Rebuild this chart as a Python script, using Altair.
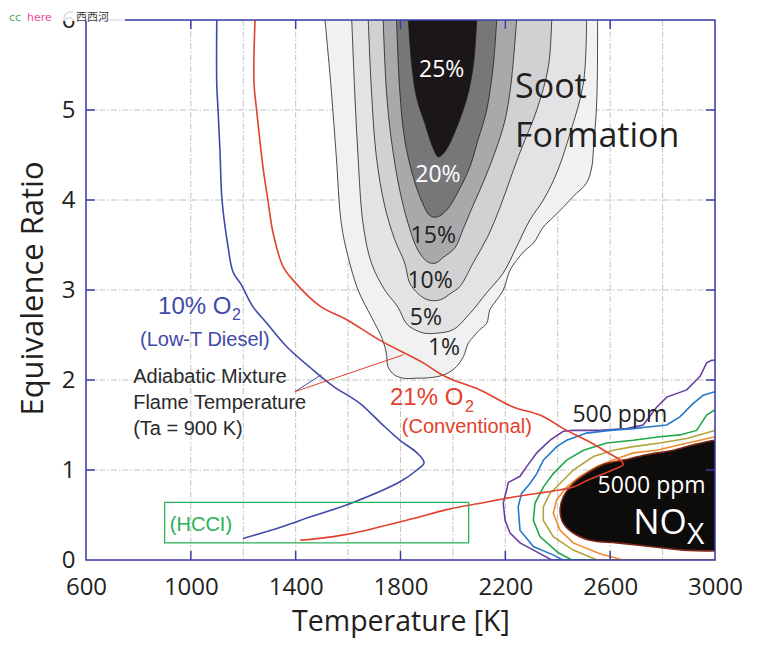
import altair as alt
import pandas as pd

# ---------------- axes ----------------
X_LABELS = [600, 1000, 1400, 1800, 2200, 2600, 3000]
Y_LABELS = [0, 1, 2, 3, 4, 5, 6]
GRID_T = [1000, 1200, 1400, 1600, 1800, 2000, 2200, 2400, 2600, 2800]
GRID_PHI = [1, 2, 3, 4, 5]
TICK_T = [1000, 1400, 1800, 2200, 2600]
TICK_PHI = [1, 2, 3, 4, 5]

# ---------------- soot contours (T [K], phi) ----------------
soot1_T = [1512, 1536, 1555, 1574, 1600, 1638, 1689, 1727, 1746, 1752, 1775, 1810, 1862, 1925, 1976, 2014, 2040, 2059, 2078, 2103,
           2129, 2141, 2167, 2192, 2218, 2243, 2275, 2307, 2345, 2383, 2434, 2459, 2510, 2530, 2536, 2549, 2552]
soot1_phi = [6.0, 5.22, 4.48, 3.74, 3.37, 3.0, 2.70, 2.48, 2.30, 2.15, 2.06, 2.02, 2.02, 2.03, 2.07, 2.15, 2.26, 2.41, 2.48, 2.56,
             2.63, 2.78, 2.89, 3.0, 3.22, 3.33, 3.44, 3.52, 3.70, 3.81, 3.96, 4.04, 4.19, 4.37, 4.56, 5.11, 6.0]
soot5_T = [1614, 1625, 1638, 1657, 1689, 1740, 1790, 1822, 1854, 1893, 1938, 2001, 2065, 2129, 2192, 2243, 2294, 2345, 2396, 2447, 2498, 2510]
soot5_phi = [6.0, 5.22, 4.48, 3.74, 3.30, 3.0, 2.81, 2.63, 2.56, 2.52, 2.52, 2.56, 2.74, 2.97, 3.19, 3.48, 3.78, 4.0, 4.30, 4.74, 5.30, 6.0]
soot10_T = [1677, 1689, 1708, 1740, 1778, 1816, 1835, 1867, 1905, 1951, 1995, 2027, 2077, 2134, 2180, 2222, 2260, 2320, 2364, 2377]
soot10_phi = [6.0, 5.22, 4.48, 3.93, 3.56, 3.30, 3.08, 2.96, 2.89, 2.89, 2.97, 3.04, 3.30, 3.60, 3.92, 4.26, 4.56, 5.0, 5.48, 6.0]
soot15_T = [1734, 1746, 1765, 1797, 1829, 1867, 1905, 1935, 1962, 2008, 2038, 2077, 2122, 2164, 2199, 2222, 2243]
soot15_phi = [6.0, 5.22, 4.67, 4.11, 3.74, 3.44, 3.31, 3.30, 3.36, 3.47, 3.67, 3.94, 4.24, 4.56, 4.89, 5.30, 6.0]
soot20_T = [1785, 1797, 1816, 1848, 1879, 1911, 1938, 1977, 2023, 2065, 2096, 2129, 2154, 2167]
soot20_phi = [6.0, 5.22, 4.67, 4.26, 4.0, 3.83, 3.81, 3.89, 4.11, 4.37, 4.67, 5.0, 5.5, 6.0]
soot25_T = [1830, 1843, 1862, 1892, 1924, 1944, 1970, 2008, 2053, 2078, 2091]
soot25_phi = [6.0, 5.5, 5.13, 4.86, 4.58, 4.48, 4.54, 4.76, 5.13, 5.5, 6.0]
SOOT_FILLS = ["#f1f1f1", "#e3e3e5", "#d1d1d3", "#a9a9ab", "#77777a", "#1b1618"]

SOOT_LABELS = ["25%", "20%", "15%", "10%", "5%", "1%"]
SOOT_LABEL_T = [1957, 1943, 1925, 1913, 1897, 1966]
SOOT_LABEL_PHI = [5.37, 4.20, 3.52, 3.02, 2.61, 2.28]
SOOT_LABEL_COLORS = ["#ffffff", "#ffffff", "#231f20", "#231f20", "#231f20", "#231f20"]

# ---------------- NOx contours ----------------
nox500_T = [3000, 2377, 2320, 2256, 2218, 2199, 2192, 2205, 2211, 2230, 2256, 2282, 2320, 2345, 2370, 2421, 2459, 2561, 2663, 2726,
            2778, 2816, 2892, 2943, 2968, 2987, 3000]
nox500_phi = [0, 0, 0.09, 0.19, 0.30, 0.44, 0.63, 0.78, 0.86, 0.89, 0.93, 1.04, 1.19, 1.26, 1.33, 1.43, 1.44, 1.44, 1.46, 1.50,
              1.70, 1.81, 1.89, 2.04, 2.19, 2.22, 2.22]
noxB_T = [3000, 2420, 2380, 2307, 2256, 2249, 2262, 2294, 2320, 2345, 2396, 2434, 2510, 2599, 2688, 2752, 2816, 2866, 2917, 2955, 3000]
noxB_phi = [0, 0, 0.06, 0.15, 0.33, 0.59, 0.74, 0.85, 0.96, 1.11, 1.26, 1.33, 1.41, 1.44, 1.46, 1.48, 1.50, 1.59, 1.74, 1.83, 1.87]
noxG_T = [3000, 2454, 2402, 2332, 2307, 2313, 2345, 2383, 2434, 2498, 2587, 2688, 2790, 2866, 2930, 2968, 3000]
noxG_phi = [0, 0, 0.08, 0.26, 0.44, 0.63, 0.81, 0.96, 1.11, 1.22, 1.30, 1.33, 1.37, 1.39, 1.44, 1.61, 1.67]
noxO_T = [3000, 2550, 2459, 2383, 2345, 2345, 2370, 2409, 2459, 2536, 2612, 2688, 2790, 2892, 3000]
noxO_phi = [0, 0, 0.11, 0.26, 0.44, 0.59, 0.74, 0.85, 1.0, 1.15, 1.22, 1.26, 1.30, 1.35, 1.44]
noxR_T = [3000, 2649, 2561, 2459, 2409, 2383, 2396, 2434, 2485, 2549, 2612, 2688, 2778, 2866, 2943, 3000]
noxR_phi = [0, 0, 0.07, 0.19, 0.33, 0.52, 0.67, 0.81, 0.93, 1.04, 1.11, 1.19, 1.22, 1.28, 1.33, 1.37]
nox5000_T = [3100, 2879, 2752, 2625, 2523, 2459, 2421, 2409, 2421, 2459, 2510, 2574, 2650, 2739, 2841, 2917, 3000, 3100]
nox5000_phi = [0.10, 0.11, 0.15, 0.19, 0.22, 0.30, 0.41, 0.56, 0.70, 0.85, 0.96, 1.06, 1.11, 1.17, 1.22, 1.28, 1.33, 1.35]
NOX_COLORS = ["#6a3fa2", "#2479c8", "#22a84a", "#b3a43a", "#f08a2c"]

# ---------------- adiabatic mixture flame temperature ----------------
o2_10_T = [1099, 1099, 1104, 1111, 1119, 1141, 1161, 1190, 1238, 1290, 1366, 1467, 1544, 1645, 1722, 1798, 1863, 1890, 1863, 1798,
           1619, 1417, 1340, 1199]
o2_10_phi = [6.0, 5.28, 4.99, 4.56, 4.0, 3.5, 3.2, 3.07, 2.81, 2.63, 2.37, 2.11, 1.93, 1.74, 1.53, 1.33, 1.19, 1.08, 1.0, 0.87,
             0.64, 0.44, 0.36, 0.24]
o2_21_T = [1245, 1241, 1251, 1275, 1294, 1314, 1352, 1390, 1493, 1595, 1722, 1887, 1951, 2001, 2103, 2230, 2332, 2434, 2510,
           2587, 2638, 2650, 2625, 2510, 2459, 2230, 2103, 1976, 1849, 1722, 1671, 1544, 1417]
o2_21_phi = [6.0, 5.30, 5.0, 4.37, 4.0, 3.63, 3.26, 3.11, 2.82, 2.67, 2.44, 2.19, 2.07, 2.0, 1.89, 1.70, 1.61, 1.44, 1.33,
             1.20, 1.11, 1.06, 1.02, 0.88, 0.81, 0.70, 0.63, 0.56, 0.46, 0.37, 0.33, 0.26, 0.22]
PTR_BLUE_T = [1397, 1499]
PTR_BLUE_PHI = [1.87, 2.06]
PTR_RED_T = [1397, 1811]
PTR_RED_PHI = [1.87, 2.28]
HCCI_BOX = {"T1": [900], "T2": [2060], "p1": [0.19], "p2": [0.64]}

# ---------------- colours ----------------
FRAME = "#3c3ca6"
BLUE = "#3f4aa8"
RED = "#e2412d"
GREEN = "#2bb15a"
DARK = "#231f20"

W, H = 629, 540
xs = alt.Scale(domain=[600, 3000], nice=False, zero=False)
ys = alt.Scale(domain=[0, 6], nice=False, zero=False)

xaxis = alt.Axis(values=X_LABELS, format="d", title="Temperature [K]", grid=False, domain=False, ticks=False, tickSize=0,
                 labelFont="Open Sans", labelFontSize=24, labelColor=DARK, labelPadding=15, labelFlush=False,
                 labelOverlap=False, titleFont="Open Sans", titleFontSize=28.5, titleFontWeight="normal",
                 titleColor=DARK, titleY=70, titleBaseline="alphabetic")
yaxis = alt.Axis(values=Y_LABELS, format="d", title="Equivalence Ratio", grid=False, domain=False, ticks=False, tickSize=0,
                 labelFont="Open Sans", labelFontSize=24, labelColor=DARK, labelPadding=11, labelFlush=False,
                 labelOverlap=False, titleFont="Open Sans", titleFontSize=31, titleFontWeight="normal",
                 titleColor=DARK, titleAngle=270, titleX=-44, titleY=268, titleBaseline="alphabetic",
                 titleAlign="center")


def XE(f="T"):
    return alt.X(f"{f}:Q", scale=xs, axis=xaxis, title="Temperature [K]")


def YE(f="phi"):
    return alt.Y(f"{f}:Q", scale=ys, axis=yaxis, title="Equivalence Ratio")


def poly(T, phi):
    return pd.DataFrame({"T": T, "phi": phi, "i": list(range(len(T)))})


layers = []
# grid
layers.append(alt.Chart(pd.DataFrame({"T": GRID_T})).mark_rule(color="#c2c2c2", strokeWidth=1, strokeDash=[6, 2, 1.5, 2])
              .encode(x=XE()))
layers.append(alt.Chart(pd.DataFrame({"phi": GRID_PHI})).mark_rule(color="#c2c2c2", strokeWidth=1, strokeDash=[6, 2, 1.5, 2])
              .encode(y=YE()))

# soot fills
soot = [(soot1_T, soot1_phi), (soot5_T, soot5_phi), (soot10_T, soot10_phi),
        (soot15_T, soot15_phi), (soot20_T, soot20_phi), (soot25_T, soot25_phi)]
for (T, p), col in zip(soot, SOOT_FILLS):
    layers.append(alt.Chart(poly(T, p)).mark_line(fill=col, stroke="#1e1e1e", strokeWidth=0.8,
                                                   interpolate="catmull-rom")
                  .encode(x=XE(), y=YE(), order="i:Q"))

# NOx
nox = [(nox500_T, nox500_phi), (noxB_T, noxB_phi), (noxG_T, noxG_phi), (noxO_T, noxO_phi), (noxR_T, noxR_phi)]
for (T, p), col in zip(nox, NOX_COLORS):
    layers.append(alt.Chart(poly(T, p)).mark_line(color=col, strokeWidth=1.6, clip=True)
                  .encode(x=XE(), y=YE(), order="i:Q"))
layers.append(alt.Chart(poly(nox5000_T, nox5000_phi)).mark_line(fill="#0e0b0b", stroke="#7a2818", strokeWidth=1.6,
                                                                clip=True, interpolate="catmull-rom")
              .encode(x=XE(), y=YE(), order="i:Q"))

# flame temperature curves
layers.append(alt.Chart(poly(o2_10_T, o2_10_phi)).mark_line(color=BLUE, strokeWidth=1.6, interpolate="catmull-rom")
              .encode(x=XE(), y=YE(), order="i:Q"))
layers.append(alt.Chart(poly(o2_21_T, o2_21_phi)).mark_line(color=RED, strokeWidth=1.6, interpolate="catmull-rom")
              .encode(x=XE(), y=YE(), order="i:Q"))
layers.append(alt.Chart(poly(PTR_BLUE_T, PTR_BLUE_PHI)).mark_line(color=BLUE, strokeWidth=1)
              .encode(x=XE(), y=YE(), order="i:Q"))
layers.append(alt.Chart(poly(PTR_RED_T, PTR_RED_PHI)).mark_line(color=RED, strokeWidth=1)
              .encode(x=XE(), y=YE(), order="i:Q"))
layers.append(alt.Chart(pd.DataFrame(HCCI_BOX)).mark_rect(fillOpacity=0, stroke=GREEN, strokeWidth=1.3)
              .encode(x=XE("T1"), x2="T2:Q", y=YE("p1"), y2="p2:Q"))


def text(T, phi, s, color, size, font="Liberation Sans", align="left"):
    df = pd.DataFrame({"T": T, "phi": phi, "s": s})
    return alt.Chart(df).mark_text(color=color, fontSize=size, font=font, align=align, baseline="alphabetic") \
        .encode(x=XE(), y=YE(), text="s:N")


# soot labels
for t, T, p, c in zip(SOOT_LABELS, SOOT_LABEL_T, SOOT_LABEL_PHI, SOOT_LABEL_COLORS):
    layers.append(text([T], [p], [t], c, 23, font="Open Sans", align="center"))
layers.append(text([2237, 2237], [5.13, 4.59], ["Soot", "Formation"], DARK, 34, font="Open Sans"))
layers.append(text([2637], [1.53], ["500 ppm"], DARK, 23, font="Open Sans", align="center"))
layers.append(text([2758], [0.75], ["5000 ppm"], "#ffffff", 23, font="Open Sans", align="center"))
layers.append(text([2688], [0.29], ["NO"], "#ffffff", 35, font="Open Sans"))
layers.append(text([2893], [0.18], ["X"], "#ffffff", 30, font="Open Sans"))

# curve labels
layers.append(text([875], [2.728], ["10% O"], BLUE, 24))
layers.append(text([1157], [2.667], ["2"], BLUE, 16))
layers.append(text([806], [2.378], ["(Low-T Diesel)"], BLUE, 20))
layers.append(text([780, 780, 780], [1.967, 1.683, 1.389],
                   ["Adiabatic Mixture", "Flame Temperature", "(Ta = 900 K)"], "#2a2a2a", 20))
layers.append(text([1760], [1.722], ["21% O"], RED, 24))
layers.append(text([2046], [1.648], ["2"], RED, 16))
layers.append(text([1805], [1.411], ["(Conventional)"], RED, 20))
layers.append(text([920], [0.322], ["(HCCI)"], GREEN, 20))

# inward ticks
layers.append(alt.Chart(pd.DataFrame({"T": TICK_T})).mark_rule(color=FRAME, strokeWidth=1.5)
              .encode(x=XE(), y=alt.value(H), y2=alt.value(H - 9)))
layers.append(alt.Chart(pd.DataFrame({"T": TICK_T})).mark_rule(color=FRAME, strokeWidth=1.5)
              .encode(x=XE(), y=alt.value(0), y2=alt.value(9)))
layers.append(alt.Chart(pd.DataFrame({"phi": TICK_PHI})).mark_rule(color=FRAME, strokeWidth=1.5)
              .encode(y=YE(), x=alt.value(0), x2=alt.value(9)))
layers.append(alt.Chart(pd.DataFrame({"phi": TICK_PHI})).mark_rule(color=FRAME, strokeWidth=1.5)
              .encode(y=YE(), x=alt.value(W), x2=alt.value(W - 9)))

# frame
one = pd.DataFrame({"a": [1]})
layers.append(alt.Chart(one).mark_rect(fillOpacity=0, stroke=FRAME, strokeWidth=1.5)
              .encode(x=alt.value(0), x2=alt.value(W), y=alt.value(0), y2=alt.value(H)))

# watermark
WM_TEXT = ["cc", "here", "西西河"]
WM_COLOR = ["#4caa4c", "#f0509a", "#404040"]
WM_X = [-77, -59, -10]
WM_FONT = ["DejaVu Sans", "DejaVu Sans", "Noto Sans CJK SC"]
WM_SIZE = [11, 11, 11]
layers.append(alt.Chart(one).mark_rect(fill="#ffffff", opacity=0.85)
              .encode(x=alt.value(-78), x2=alt.value(39), y=alt.value(-12), y2=alt.value(1)))
for t, c, xv, f, s in zip(WM_TEXT, WM_COLOR, WM_X, WM_FONT, WM_SIZE):
    layers.append(alt.Chart(one).mark_text(text=t, color=c, font=f, fontSize=s, align="left", baseline="alphabetic")
                  .encode(x=alt.value(xv), y=alt.value(1)))

chart = alt.layer(*layers).properties(
    width=W, height=H,
    padding={"left": 78, "top": 12, "right": 39, "bottom": 89},
    autosize=alt.AutoSizeParams(type="none"),
).configure_view(strokeWidth=0).configure(background="#ffffff")

chart.save("out.html", embed_options={"renderer": "svg", "actions": False})
